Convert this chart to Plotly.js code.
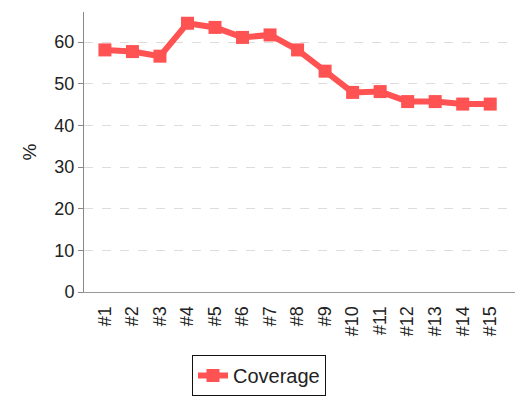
<!DOCTYPE html>
<html><head><meta charset="utf-8">
<script src="https://cdn.plot.ly/plotly-3.0.1.min.js"></script>
<style>html,body{margin:0;padding:0;background:#fff;}</style>
</head><body>
<div id="chart" style="width:518px;height:405px;"></div>
<script>
var categories = ["#1","#2","#3","#4","#5","#6","#7","#8","#9","#10","#11","#12","#13","#14","#15"];
var coverage = [58.1, 57.7, 56.6, 64.5, 63.5, 61.1, 61.7, 58.1, 53.0, 47.9, 48.1, 45.7, 45.7, 45.1, 45.1];
var yTicks = [0, 10, 20, 30, 40, 50, 60];

var trace = {
  x: categories, y: coverage, type: 'scatter', mode: 'lines+markers', name: 'Coverage',
  line: {color: '#ff5252', width: 6},
  marker: {color: '#ff5252', symbol: 'square', size: 13}
};
var layout = {
  width: 518, height: 405,
  margin: {l: 84, r: 3, t: 12, b: 113},
  paper_bgcolor: '#fff', plot_bgcolor: '#fff',
  font: {family: 'Liberation Sans, Arial, sans-serif', color: '#222'},
  xaxis: {
    type: 'category', range: [-0.76, 14.9], tickangle: -90, automargin: false,
    showgrid: false, showline: true, linecolor: '#999', linewidth: 1,
    ticks: 'outside', ticklen: 6, tickcolor: 'rgba(0,0,0,0)',
    tickfont: {size: 18, color: '#222'}, zeroline: false
  },
  yaxis: {
    range: [0, 67.2], tickvals: yTicks, ticktext: yTicks.map(String), automargin: false,
    showline: true, linecolor: '#888', linewidth: 1,
    ticks: 'outside', ticklen: 5, tickcolor: '#888',
    gridcolor: '#dddddd', griddash: 'dash', gridwidth: 1, zeroline: false,
    tickfont: {size: 18, color: '#222'},
    title: {text: '%', font: {size: 19, color: '#222'}, standoff: 12}
  },
  showlegend: true,
  legend: {
    x: 0.406, xanchor: 'center', y: -0.225, yanchor: 'top', orientation: 'h',
    bordercolor: '#111', borderwidth: 1, font: {size: 20, color: '#222'}
  }
};
Plotly.newPlot('chart', [trace], layout, {displayModeBar: false});
</script>
</body></html>
